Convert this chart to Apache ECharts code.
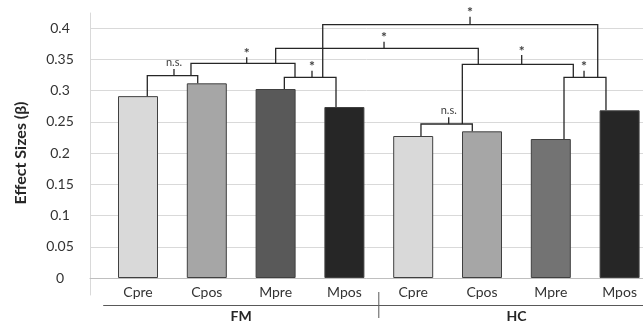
<!DOCTYPE html>
<html>
<head>
<meta charset="utf-8">
<script src="https://cdn.jsdelivr.net/npm/echarts@6/dist/echarts.min.js"></script>
<style>
html, body { margin: 0; padding: 0; background: #fff; overflow: hidden; }
/* the last category band runs past the right edge of the picture */
#chart { width: 660px; height: 325px; }
</style>
</head>
<body>
<div id="chart"></div>
<script>
// data
const categories = ['Cpre', 'Cpos', 'Mpre', 'Mpos', 'Cpre', 'Cpos', 'Mpre', 'Mpos'];
const groups = ['FM', 'HC'];
const effectSizes = [0.291, 0.3115, 0.3024, 0.2736, 0.2272, 0.2347, 0.2224, 0.2683];
const yTickLabels = ['0', '0.05', '0.1', '0.15', '0.2', '0.25', '0.3', '0.35', '0.4'];

// significance brackets (x in category units, y in effect size units)
const bracketFrom = [0.135, 2.127, 0.770, 2.001, 4.714, 4.113, 6.192, 2.685];
const bracketTo = [0.868, 2.878, 2.282, 4.946, 6.327, 4.859, 6.802, 6.682];
const bracketLevel = [0.3237, 0.3211, 0.3435, 0.3675, 0.3419, 0.2464, 0.3211, 0.4053];
const bracketFootL = [0.291, 0.3024, 0.3237, 0.3435, 0.2464, 0.2272, 0.2224, 0.3211];
const bracketFootR = [0.3115, 0.2736, 0.3211, 0.3419, 0.3211, 0.2347, 0.2683, 0.3211];
const bracketMarkX = [0.523, 2.529, 1.580, 3.576, 5.577, 4.516, 6.483, 4.826];
const bracketMarkTop = [0.3344, 0.3317, 0.3531, 0.378, 0.3568, 0.2571, 0.3317, 0.418];
const bracketLabels = ['n.s.', '*', '*', '*', '*', 'n.s.', '*', '*'];

// divider between FM and HC on the group axis
const groupDividerX = [3.5];
const groupDividerSpan = [-0.0224, -0.0640];

const barColors = ['#d9d9d9', '#a6a6a6', '#595959', '#262626', '#d9d9d9', '#a6a6a6', '#737373', '#262626'];
const font = 'Lato, "Open Sans", sans-serif';

const chart = echarts.init(document.getElementById('chart'));

const brackets = bracketFrom.map((f, i) => [f, bracketTo[i], bracketLevel[i], bracketFootL[i],
    bracketFootR[i], bracketMarkX[i], bracketMarkTop[i]]);

const option = {
    animation: false,
    textStyle: { fontFamily: font },
    grid: [
        { left: 90, right: 17, top: 13, bottom: 30 },
        { left: 90, right: 17, top: 28, bottom: 47 },
        { left: 103.6, right: 6, top: 28, bottom: 47 }
    ],
    xAxis: [
        { gridIndex: 0, type: 'value', show: false },
        {
            gridIndex: 1, type: 'value', min: 0, max: 1,
            axisLabel: { show: false }, axisTick: { show: false }, splitLine: { show: false },
            axisLine: { show: true, lineStyle: { color: '#bfbfbf', width: 1 } }
        },
        {
            gridIndex: 2, type: 'category', data: categories,
            axisLine: { show: false }, axisTick: { show: false },
            axisLabel: { margin: 7, fontSize: 14, color: '#333', fontFamily: font }
        },
        {
            gridIndex: 2, type: 'category', data: groups, position: 'bottom', offset: 27,
            axisLine: { show: true, lineStyle: { color: '#595959', width: 1 } },
            axisTick: { show: false },
            axisLabel: { margin: 4, fontSize: 14, fontWeight: 'bold', color: '#262626', fontFamily: font }
        },
        { gridIndex: 2, type: 'value', min: -0.5, max: 7.5, show: false }
    ],
    yAxis: [
        {
            gridIndex: 0, type: 'value', min: -0.0272, max: 0.424,
            axisLabel: { show: false }, axisTick: { show: false }, splitLine: { show: false },
            axisLine: { show: true, lineStyle: { color: '#d9d9d9', width: 1 } }
        },
        {
            gridIndex: 1, type: 'value', min: 0, max: 0.4, interval: 0.05,
            axisLine: { show: false }, axisTick: { show: false },
            splitLine: { show: true, lineStyle: { color: '#d9d9d9', width: 1 } },
            axisLabel: {
                margin: 30, align: 'center', fontSize: 14, color: '#333', fontFamily: font,
                formatter: (v, i) => yTickLabels[i]
            },
            name: 'Effect Sizes (β)', nameLocation: 'middle', nameRotate: 90, nameGap: 61,
            nameTextStyle: { fontSize: 16, fontWeight: 'bold', color: '#262626', fontFamily: font }
        },
        { gridIndex: 2, type: 'value', min: 0, max: 0.4, show: false }
    ],
    series: [
        {
            type: 'bar', xAxisIndex: 2, yAxisIndex: 2,
            data: effectSizes, barWidth: 40,
            itemStyle: {
                color: (p) => barColors[p.dataIndex],
                borderColor: '#404040', borderWidth: 1
            }
        },
        {
            type: 'custom', xAxisIndex: 4, yAxisIndex: 2, clip: false, z: 5,
            data: brackets,
            renderItem: function (params, api) {
                const y = api.value(2);
                const a = api.coord([api.value(0), y]);
                const b = api.coord([api.value(1), y]);
                const fl = api.coord([api.value(0), api.value(3)]);
                const fr = api.coord([api.value(1), api.value(4)]);
                const t0 = api.coord([api.value(5), y]);
                const t1 = api.coord([api.value(5), api.value(6)]);
                const line = { stroke: '#262626', lineWidth: 1.3 };
                const label = bracketLabels[params.dataIndex];
                const isStar = label === '*';
                return {
                    type: 'group',
                    children: [
                        { type: 'polyline', shape: { points: [fl, a, b, fr] }, style: Object.assign({ fill: null }, line) },
                        { type: 'line', shape: { x1: t0[0], y1: t0[1], x2: t1[0], y2: t1[1] }, style: line },
                        {
                            type: 'text', x: t1[0], y: t1[1] - (isStar ? 4 : 7),
                            style: {
                                text: label, fill: '#404040',
                                font: (isStar ? 'bold 14px ' : '11px ') + font,
                                align: 'center', verticalAlign: 'middle'
                            }
                        }
                    ]
                };
            }
        },
        {
            type: 'custom', xAxisIndex: 4, yAxisIndex: 2, clip: false, z: 5,
            data: groupDividerX.map(x => [x, groupDividerSpan[0], groupDividerSpan[1]]),
            renderItem: function (params, api) {
                const p0 = api.coord([api.value(0), api.value(1)]);
                const p1 = api.coord([api.value(0), api.value(2)]);
                return {
                    type: 'line', shape: { x1: p0[0], y1: p0[1], x2: p1[0], y2: p1[1] },
                    style: { stroke: '#595959', lineWidth: 1 }
                };
            }
        }
    ]
};

chart.setOption(option);
</script>
</body>
</html>
